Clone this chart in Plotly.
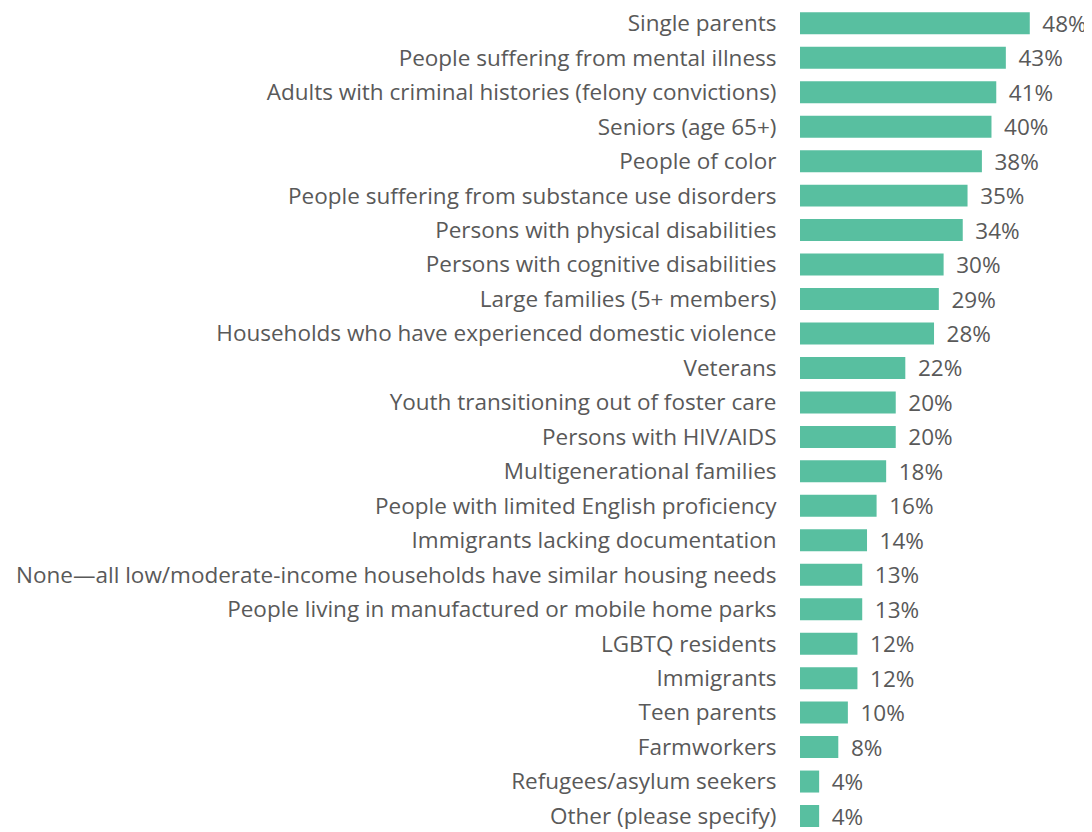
import plotly.graph_objects as go

categories = [
    "Single parents",
    "People suffering from mental illness",
    "Adults with criminal histories (felony convictions)",
    "Seniors (age 65+)",
    "People of color",
    "People suffering from substance use disorders",
    "Persons with physical disabilities",
    "Persons with cognitive disabilities",
    "Large families (5+ members)",
    "Households who have experienced domestic violence",
    "Veterans",
    "Youth transitioning out of foster care",
    "Persons with HIV/AIDS",
    "Multigenerational families",
    "People with limited English proficiency",
    "Immigrants lacking documentation",
    "None\u2014all low/moderate-income households have similar housing needs",
    "People living in manufactured or mobile home parks",
    "LGBTQ residents",
    "Immigrants",
    "Teen parents",
    "Farmworkers",
    "Refugees/asylum seekers",
    "Other (please specify)",
]
values = [48, 43, 41, 40, 38, 35, 34, 30, 29, 28, 22, 20, 20, 18, 16, 14, 13, 13, 12, 12, 10, 8, 4, 4]
labels = [f"\u00a0\u2009{v}%" for v in values]

TEXT = "#595959"
BAR = "#58bfa0"
FS = 22.5

fig = go.Figure(go.Bar(
    x=values,
    y=categories,
    orientation="h",
    marker=dict(color=BAR, line=dict(width=0)),
    text=labels,
    textposition="outside",
    constraintext="none",
    textfont=dict(family="Open Sans", size=FS, color=TEXT),
    cliponaxis=False,
    hoverinfo="skip",
))

fig.update_layout(
    width=1084,
    height=824,
    margin=dict(l=792, r=0, t=0, b=0, autoexpand=False),
    paper_bgcolor="white",
    plot_bgcolor="white",
    bargap=0.362,
    showlegend=False,
    font=dict(family="Open Sans", size=FS, color=TEXT),
    xaxis=dict(range=[0, 61], visible=False, fixedrange=True, automargin=False),
    yaxis=dict(
        range=[23.464, -0.444],
        automargin=False,
        showgrid=False,
        showline=False,
        zeroline=False,
        ticks="outside",
        ticklen=18,
        tickcolor="rgba(0,0,0,0)",
        tickfont=dict(family="Open Sans", size=FS, color=TEXT),
    ),
)

fig.write_html("out.html")
